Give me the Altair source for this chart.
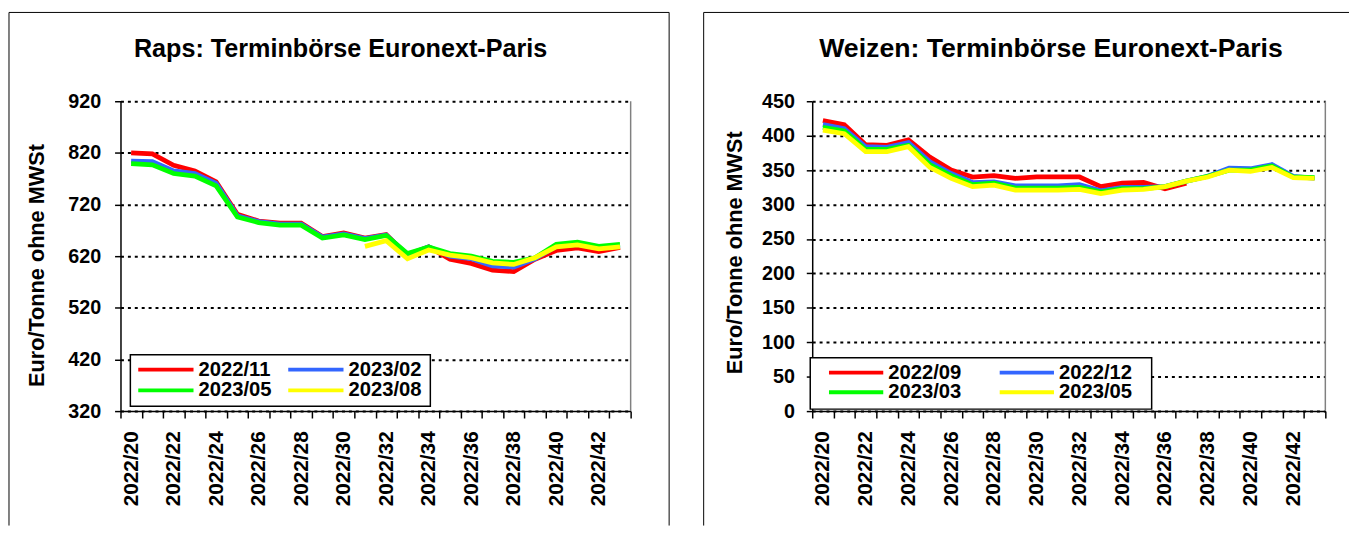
import altair as alt
import pandas as pd

FONT = "Liberation Sans"

weeks = ["2022/20", "2022/21", "2022/22", "2022/23", "2022/24", "2022/25", "2022/26", "2022/27",
         "2022/28", "2022/29", "2022/30", "2022/31", "2022/32", "2022/33", "2022/34", "2022/35",
         "2022/36", "2022/37", "2022/38", "2022/39", "2022/40", "2022/41", "2022/42", "2022/43"]
label_weeks = weeks[::2]

raps_names = ["2022/11", "2023/02", "2023/05", "2023/08"]
raps_colors = ["#FF0000", "#3366FF", "#00FF00", "#FFFF00"]
raps_2022_11 = [820, 818, 796, 785, 764, 701, 688, 684, 684, 658, 665, 655,
                662, 622, 638, 614, 606, 593, 590, 614, 631, 636, 629, 637]
raps_2023_02 = [804, 803, 785, 780, 761, 698, 687, 682, 682, 657, 663, 654,
                661, 623, 638, 620, 615, 601, 599, 615, 639, 643, 636, 640]
raps_2023_05 = [799, 797, 780, 775, 756, 696, 685, 680, 680, 655, 661, 652,
                660, 625, 638, 625, 620, 610, 608, 617, 643, 647, 639, 643]
raps_2023_08 = [None, None, None, None, None, None, None, None, None, None, None, 639,
                650, 615, 632, 622, 617, 607, 604, 617, 638, 642, 634, 638]
raps_values = [raps_2022_11, raps_2023_02, raps_2023_05, raps_2023_08]
raps_ticks = [320, 420, 520, 620, 720, 820, 920]

weizen_names = ["2022/09", "2022/12", "2023/03", "2023/05"]
weizen_colors = ["#FF0000", "#3366FF", "#00FF00", "#FFFF00"]
weizen_2022_09 = [422, 416, 387, 386, 394, 369, 350, 340, 342, 338, 340, 340,
                  340, 326, 331, 332, 323, 331, None, None, None, None, None, None]
weizen_2022_12 = [416, 410, 384, 383, 390, 362, 345, 332, 333, 327, 327, 327,
                  329, 320, 325, 325, 326, 334, 341, 353, 352, 358, 341, 338]
weizen_2023_03 = [412, 407, 380, 380, 386, 358, 342, 329, 331, 324, 324, 324,
                  325, 318, 323, 323, 326, 334, 341, 350, 350, 356, 340, 339]
weizen_2023_05 = [408, 403, 377, 377, 384, 354, 338, 326, 328, 321, 321, 321,
                  322, 316, 321, 322, 326, 334, 340, 350, 348, 354, 339, 338]
weizen_values = [weizen_2022_09, weizen_2022_12, weizen_2023_03, weizen_2023_05]
weizen_ticks = [0, 50, 100, 150, 200, 250, 300, 350, 400, 450]

Y_TITLE = "Euro/Tonne ohne MWSt"
dummy = pd.DataFrame({"d": [0]})


def panel(title, names, values, colors, ticks, width, height, geo):
    label_list = "[" + ",".join("'" + w + "'" for w in label_weeks) + "]"
    x_enc = alt.X(
        "week:O",
        scale=alt.Scale(type="band", domain=weeks, paddingInner=0, paddingOuter=0),
        axis=alt.Axis(
            title=None,
            tickBand="extent",
            tickSize=7,
            tickColor="black",
            tickWidth=1.5,
            domainColor="black",
            domainWidth=1.5,
            labelAngle=270,
            labelAlign="right",
            labelBaseline="middle",
            labelPadding=13,
            labelOverlap=False,
            labelFont=FONT,
            labelFontSize=21,
            labelFontWeight="bold",
            labelColor="black",
            labelExpr="indexof(" + label_list + ", datum.label) >= 0 ? datum.label : ''",
        ),
    )
    y_enc = alt.Y(
        "value:Q",
        scale=alt.Scale(domain=[ticks[0], ticks[-1]], nice=False, zero=False),
        axis=alt.Axis(
            values=ticks,
            title=Y_TITLE,
            titleFont=FONT,
            titleFontSize=22,
            titleFontWeight="bold",
            titleColor="black",
            titleAngle=270,
            titleAlign="center",
            titleBaseline="middle",
            titleX=geo["ytitle_x"],
            titleY=geo["ytitle_y"],
            grid=True,
            gridColor="black",
            gridDash=[3, 4],
            gridWidth=2,
            tickSize=6,
            tickColor="black",
            tickWidth=1.5,
            domainColor="black",
            domainWidth=1.5,
            labelPadding=geo["ylabel_pad"],
            labelFont=FONT,
            labelFontSize=20,
            labelFontWeight="bold",
            labelColor="black",
        ),
    )

    layers = []
    for name, vals, col in zip(names, values, colors):
        df = pd.DataFrame({"week": weeks, "value": vals}).dropna()
        layers.append(alt.Chart(df).mark_line(color=col, strokeWidth=4.8).encode(
            x=x_enc, y=y_enc))

    fl, fr, ft, fb = geo["frame"]
    layers.append(alt.Chart(dummy).mark_rule(color="black", strokeWidth=1).encode(
        x=alt.value(fl), x2=alt.value(fr), y=alt.value(ft)))
    layers.append(alt.Chart(dummy).mark_rule(color="black", strokeWidth=1).encode(
        x=alt.value(fl), y=alt.value(ft), y2=alt.value(fb)))
    if geo["frame_right"]:
        layers.append(alt.Chart(dummy).mark_rule(color="black", strokeWidth=1).encode(
            x=alt.value(fr), y=alt.value(ft), y2=alt.value(fb)))
    layers.append(alt.Chart(dummy).mark_rule(color="#808080", strokeWidth=1.5).encode(
        x=alt.value(width), y=alt.value(0), y2=alt.value(height)))
    layers.append(alt.Chart(dummy).mark_text(
        font=FONT, fontSize=geo["title_size"], fontWeight="bold", color="black",
        align="center", baseline="alphabetic").encode(
        x=alt.value(geo["title_x"]), y=alt.value(geo["title_y"]), text=alt.value(title)))

    bx1, bx2, by1, by2 = geo["legend_box"]
    layers.append(alt.Chart(dummy).mark_rect(fill="white", stroke="black", strokeWidth=1.5).encode(
        x=alt.value(bx1), x2=alt.value(bx2), y=alt.value(by1), y2=alt.value(by2)))
    for i, (name, col) in enumerate(zip(names, colors)):
        c, r = i % 2, i // 2
        lx1, lx2, tx = geo["legend_cols"][c]
        ly = geo["legend_rows"][r]
        layers.append(alt.Chart(dummy).mark_rule(color=col, strokeWidth=4).encode(
            x=alt.value(lx1), x2=alt.value(lx2), y=alt.value(ly)))
        layers.append(alt.Chart(dummy).mark_text(
            font=FONT, fontSize=20.5, fontWeight="bold", color="black",
            align="left", baseline="middle").encode(
            x=alt.value(tx), y=alt.value(ly), text=alt.value(name)))

    return alt.layer(*layers).properties(width=width, height=height)


H = 314
left = panel(
    "Raps: Terminbörse Euronext-Paris", raps_names, raps_values, raps_colors, raps_ticks,
    517, H,
    dict(frame=(-113, 556, -90, 430), frame_right=True,
         title_x=223, title_y=-45, title_size=25.5,
         ytitle_x=-85, ytitle_y=166, ylabel_pad=14,
         legend_box=(10, 314, 257, 309),
         legend_cols=[(18, 74, 79), (170, 226, 231)],
         legend_rows=[272, 293]),
)
right = panel(
    "Weizen: Terminbörse Euronext-Paris", weizen_names, weizen_values, weizen_colors, weizen_ticks,
    520, H,
    dict(frame=(-110, 544, -90, 430), frame_right=False,
         title_x=242, title_y=-45, title_size=27,
         ytitle_x=-79, ytitle_y=153, ylabel_pad=12,
         legend_box=(-2, 344, 260, 312),
         legend_cols=[(17, 72, 77), (190, 245, 250)],
         legend_rows=[275, 295]),
)

chart = alt.hconcat(left, right, spacing=33, padding={"left": 0, "top": 0, "right": 0, "bottom": 0},
                    background="white").configure_view(stroke=None)

chart.save("out.html", embed_options={"renderer": "svg", "actions": False})
